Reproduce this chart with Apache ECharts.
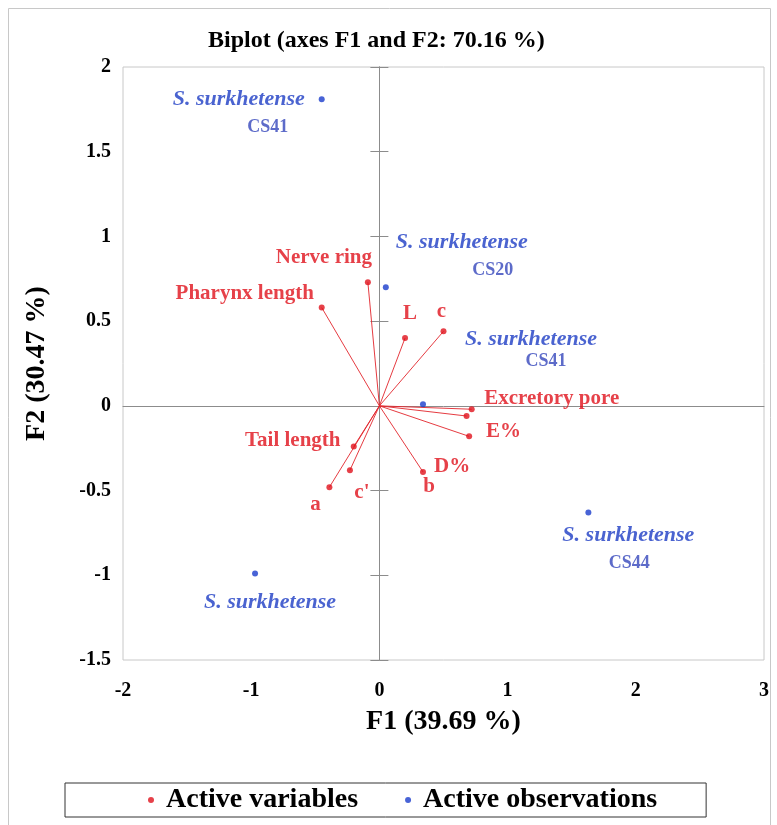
<!DOCTYPE html>
<html>
<head>
<meta charset="utf-8">
<script src="https://cdn.jsdelivr.net/npm/echarts@6/dist/echarts.min.js"></script>
<style>
  html, body { margin: 0; padding: 0; background: #ffffff; }
  #chart { width: 777px; height: 825px; }
</style>
</head>
<body>
<div id="chart"></div>
<script>
// PCA biplot: variable loadings (red vectors) and observation scores (blue points)
const varNames = ['Pharynx length', 'Nerve ring', 'L', 'c', 'Excretory pore', 'E%', 'D%', 'b', 'Tail length', "c'", 'a'];
const varF1 = [-0.45, -0.09, 0.20, 0.50, 0.72, 0.68, 0.70, 0.34, -0.20, -0.23, -0.39];
const varF2 = [0.58, 0.73, 0.40, 0.44, -0.02, -0.06, -0.18, -0.39, -0.24, -0.38, -0.48];

const obsSpecies = ['S. surkhetense', 'S. surkhetense', 'S. surkhetense', 'S. surkhetense', 'S. surkhetense'];
const obsCodes = ['CS41', 'CS20', 'CS41', 'CS44', ''];
const obsF1 = [-0.45, 0.05, 0.34, 1.63, -0.97];
const obsF2 = [1.81, 0.70, 0.01, -0.63, -0.99];

const f1Ticks = { min: -2, max: 3, interval: 1 };
const f2Ticks = { min: -1.5, max: 2, interval: 0.5 };

// Label placement (pixel offsets of each label centre from its point)
const varLabelOffset = {
  'Pharynx length': [-77, -14], 'Nerve ring': [-44, -25], 'L': [5, -25], 'c': [-2, -20],
  'Excretory pore': [80, -11], 'E%': [37, 16], 'D%': [-17, 30], 'b': [6, 15],
  'Tail length': [-61, -6], "c'": [12, 22], 'a': [-14, 17]
};
const obsNameOffset = [[-83, 0], [76, -45], [108, -65], [40, 23], [15, 29]];
const obsCodeOffset = [[-54, 28], [107, -17], [123, -43], [41, 51], [0, 0]];

const SERIF = '"Liberation Serif", "Times New Roman", serif';
const RED = '#e0121b';
const BLUE = '#1a3ccc';
const AXIS_GREY = '#8c8c8c';

const chart = echarts.init(document.getElementById('chart'), null, { renderer: 'canvas' });

const vectorData = varNames.map((n, i) => ({ coords: [[0, 0], [varF1[i], varF2[i]]] }));
const varData = varNames.map((n, i) => ({
  name: n, value: [varF1[i], varF2[i]],
  label: { offset: varLabelOffset[n] }
}));
const obsData = obsSpecies.map((n, i) => ({
  name: n, value: [obsF1[i], obsF2[i]],
  label: { offset: obsNameOffset[i] }
}));
const codeData = obsCodes.map((n, i) => ({
  name: n, value: [obsF1[i], obsF2[i]],
  label: { offset: obsCodeOffset[i] }
}));

const zeroAxisCommon = {
  type: 'value', axisLabel: { show: false }, splitLine: { show: false }
};

chart.setOption({
  animation: false,
  backgroundColor: '#ffffff',
  title: {
    text: 'Biplot (axes F1 and F2: 70.16 %)',
    left: 208, top: 29, padding: 0,
    textStyle: { fontFamily: SERIF, fontWeight: 'bold', fontSize: 24, color: '#000' }
  },
  graphic: [{
    type: 'rect', silent: true, z: -10,
    shape: { x: 8.5, y: 8.5, width: 762, height: 830 },
    style: { fill: 'none', stroke: '#c8c8c8', lineWidth: 1 }
  }],
  legend: {
    data: ['Active variables', 'Active observations'],
    left: 65, top: 783,
    padding: [3, 49, 3, 83],
    itemGap: 47,
    itemWidth: 6, itemHeight: 6, icon: 'circle',
    borderColor: '#333', borderWidth: 1,
    textStyle: { fontFamily: SERIF, fontWeight: 'bold', fontSize: 28, color: '#000', padding: [0, 0, 0, 7] }
  },
  grid: {
    left: 123, right: 13, top: 67, bottom: 165,
    show: true, borderColor: '#c8c8c8', borderWidth: 1, backgroundColor: 'transparent'
  },
  xAxis: [
    Object.assign({
      type: 'value',
      name: 'F1 (39.69 %)', nameLocation: 'middle', nameGap: 48,
      nameTextStyle: { fontFamily: SERIF, fontWeight: 'bold', fontSize: 28, color: '#000' },
      axisLine: { show: false, onZero: false },
      axisTick: { show: false },
      splitLine: { show: false },
      axisLabel: { margin: 21, fontFamily: SERIF, fontWeight: 'bold', fontSize: 20, color: '#000' }
    }, f1Ticks),
    Object.assign({}, zeroAxisCommon, f1Ticks, {
      axisLine: { show: true, onZero: true, onZeroAxisIndex: 0, lineStyle: { color: AXIS_GREY, width: 1 } },
      axisTick: { show: false }
    })
  ],
  yAxis: [
    Object.assign({
      type: 'value',
      name: 'F2 (30.47 %)', nameLocation: 'middle', nameGap: 72, nameRotate: 90,
      nameTextStyle: { fontFamily: SERIF, fontWeight: 'bold', fontSize: 28, color: '#000' },
      axisLine: { show: false, onZero: false },
      axisTick: { show: false },
      splitLine: { show: false },
      axisLabel: { margin: 12, fontFamily: SERIF, fontWeight: 'bold', fontSize: 20, color: '#000' }
    }, f2Ticks),
    Object.assign({}, zeroAxisCommon, f2Ticks, {
      axisLine: { show: true, onZero: true, onZeroAxisIndex: 0, lineStyle: { color: AXIS_GREY, width: 1 } },
      axisTick: { show: true, inside: false, length: 9, lineStyle: { color: AXIS_GREY, width: 1 } }
    }),
    Object.assign({}, zeroAxisCommon, f2Ticks, {
      axisLine: { show: true, onZero: true, onZeroAxisIndex: 0, lineStyle: { color: AXIS_GREY, width: 1 } },
      axisTick: { show: true, inside: true, length: 9, lineStyle: { color: AXIS_GREY, width: 1 } }
    })
  ],
  series: [
    {
      name: 'vectors', type: 'lines', coordinateSystem: 'cartesian2d',
      xAxisIndex: 0, yAxisIndex: 0, silent: true, z: 3,
      lineStyle: { color: '#e2262c', width: 1, opacity: 0.9 },
      data: vectorData
    },
    {
      name: 'Active variables', type: 'scatter', xAxisIndex: 0, yAxisIndex: 0, z: 4,
      symbol: 'circle', symbolSize: 6,
      itemStyle: { color: RED },
      label: {
        show: true, position: 'inside', formatter: '{b}',
        fontFamily: SERIF, fontWeight: 'bold', fontSize: 21, color: RED
      },
      data: varData
    },
    {
      name: 'Active observations', type: 'scatter', xAxisIndex: 0, yAxisIndex: 0, z: 4,
      symbol: 'circle', symbolSize: 6,
      itemStyle: { color: BLUE },
      label: {
        show: true, position: 'inside', formatter: '{b}',
        fontFamily: SERIF, fontWeight: 'bold', fontStyle: 'italic', fontSize: 22, color: '#1d3cc4'
      },
      data: obsData
    },
    {
      name: 'codes', type: 'scatter', xAxisIndex: 0, yAxisIndex: 0, z: 4,
      symbol: 'circle', symbolSize: 1, silent: true,
      itemStyle: { color: 'rgba(0,0,0,0)' },
      label: {
        show: true, position: 'inside', formatter: '{b}',
        fontFamily: SERIF, fontWeight: 'bold', fontSize: 18, color: '#3446bb'
      },
      data: codeData
    }
  ]
});
</script>
</body>
</html>
